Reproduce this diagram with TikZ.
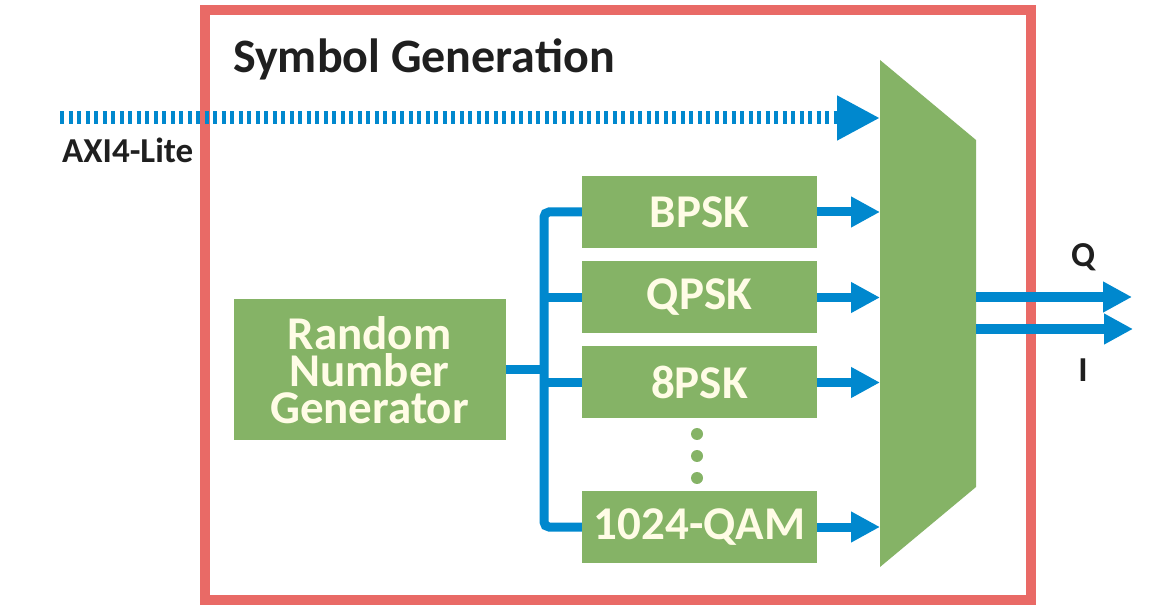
\documentclass[tikz,border=0pt]{standalone}
\usepackage{fontspec}
\setmainfont{Carlito}
\usetikzlibrary{arrows.meta}
\definecolor{framered}{HTML}{E96A66}
\definecolor{blockgreen}{HTML}{85B366}
\definecolor{wireblue}{HTML}{0088CE}
\definecolor{textcream}{HTML}{FFFCE6}
\tikzset{
  block/.style={fill=blockgreen,text=textcream,inner sep=0pt,minimum width=235pt,minimum height=72pt,
    font=\fontsize{47}{37}\selectfont\bfseries,align=center},
  wire/.style={draw=wireblue,line width=9pt},
  wirearrow/.style={wire,-{Triangle[length=29pt,width=29pt]}},
  outlabel/.style={font=\fontsize{35}{40}\selectfont\bfseries,text=black!88,inner sep=0pt}
}
\begin{document}
\begin{tikzpicture}[x=1pt,y=-1pt]
\useasboundingbox (0,0) rectangle (1176,609);
% frame
\draw[framered,line width=10pt] (205,10) rectangle (1031,600);
\node[anchor=base west,inner sep=0pt,font=\fontsize{48}{56}\selectfont\bfseries,text=black!88] (title) at (233,73) {Symbol Generation};
% multiplexer
\fill[blockgreen] (880,60) -- (976,140) -- (976,487) -- (880,567) -- cycle;
\coordinate (muxin) at (880,60);
\coordinate (muxout) at (976,140);
% blocks
\node[block,minimum width=272pt,minimum height=141pt] (rng) at (369.5,370) {Random\\Number\\Generator};
\node[block] (bpsk) at (699.5,212) {BPSK};
\node[block] (qpsk) at (699.5,297.5) {QPSK};
\node[block] (psk8) at (699.5,382.5) {8PSK};
\node[block] (qam) at (699.5,527) {1024-QAM};
\foreach \y in {434,456,478}
  \fill[blockgreen] (697,\y) circle (6pt);
% bus
\coordinate (bus) at (544,0);
\draw[wire,rounded corners=5pt] (bpsk.west) -- (bpsk.west -| bus) -- (qam.west -| bus) -- (qam.west);
\draw[wire] (qpsk.west) -- (qpsk.west -| bus);
\draw[wire] (psk8.west) -- (psk8.west -| bus);
\draw[wire] (rng.east) -- (rng.east -| bus);
\foreach \b in {bpsk,qpsk,psk8,qam}
  \draw[wirearrow] (\b.east) -- (\b.east -| muxin);
% control
\coordinate (axi) at (60,118);
\draw[draw=wireblue,line width=13pt,dash pattern=on 4pt off 4.5pt,-{Triangle[length=43pt,width=42pt]}] (axi) -- (axi -| muxin);
\node[anchor=base west,outlabel] (axilabel) at (62,163) {AXI4-Lite};
% outputs
\coordinate (qout) at (1132,297);
\coordinate (iout) at (1133,329);
\draw[wirearrow,line width=10pt] (qout -| muxout) -- (qout);
\draw[wirearrow,line width=10pt] (iout -| muxout) -- (iout);
\node[outlabel] (qlabel) at (1083,257) {Q};
\node[outlabel] (ilabel) at (1083,370) {I};
\end{tikzpicture}
\end{document}
